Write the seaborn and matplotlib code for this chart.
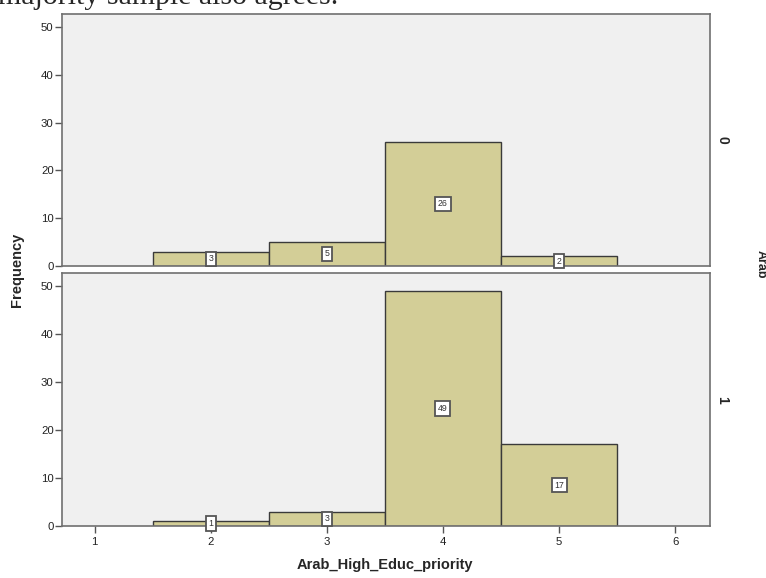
import numpy as np
import pandas as pd
import matplotlib
matplotlib.use("Agg")
import matplotlib.pyplot as plt
import seaborn as sns

# data
priority = [2, 3, 4, 5]
counts_arab0 = [3, 5, 26, 2]
counts_arab1 = [1, 3, 49, 17]
groups = ["0", "1"]
xticks = [1, 2, 3, 4, 5, 6]
yticks = [0, 10, 20, 30, 40, 50]

df = pd.DataFrame({
    "Arab_High_Educ_priority": priority * 2,
    "count": counts_arab0 + counts_arab1,
    "Arab": ["0"] * 4 + ["1"] * 4,
})

sns.set_style("white")
plt.rcParams["font.family"] = ["Liberation Sans", "DejaVu Sans"]

bar_color = "#d3ce97"
bg = "#f0f0f0"
edge = "#3a3a3a"

fig = plt.figure(figsize=(7.66, 5.78), dpi=100)
ax_top = fig.add_axes([0.081, 0.540, 0.846, 0.436])
ax_bot = fig.add_axes([0.081, 0.090, 0.846, 0.438])

for ax, g in zip([ax_top, ax_bot], groups):
    sub = df[df["Arab"] == g]
    sns.histplot(data=sub, x="Arab_High_Educ_priority", weights="count",
                 discrete=True, color=bar_color, alpha=1, edgecolor=edge,
                 linewidth=1, ax=ax)
    ax.set_facecolor(bg)
    ax.set_xlim(0.72, 6.3)
    ax.set_ylim(0, 52.8)
    ax.set_yticks(yticks)
    ax.tick_params(axis="y", length=5, width=1, color="#555555",
                   labelsize=8.2, labelcolor="#222222", pad=1, left=True)
    ax.set_xlabel("")
    ax.set_ylabel("")
    for s in ax.spines.values():
        s.set_color("#707070")
        s.set_linewidth(1.2)
    for x, c in zip(sub["Arab_High_Educ_priority"], sub["count"]):
        ax.text(x, c / 2, str(c), ha="center", va="center", fontsize=6.3,
                color="#333333", clip_on=False, zorder=5,
                bbox=dict(boxstyle="square,pad=0.3", fc="white",
                          ec="#555555", lw=1.3))
    ax.text(1.008, 0.5, g, transform=ax.transAxes, rotation=270,
            ha="left", va="center", fontsize=10, fontweight="bold")

ax_top.set_xticks([])
ax_bot.set_xticks(xticks)
ax_bot.tick_params(axis="x", length=5, width=1, color="#555555",
                   labelsize=8.2, labelcolor="#222222", bottom=True, pad=3)

fig.text(0.022, 0.533, "Frequency", rotation=90, ha="center", va="center",
         fontsize=10.5, fontweight="bold")
fig.text(0.503, 0.022, "Arab_High_Educ_priority", ha="center", va="center",
         fontsize=10.5, fontweight="bold")
fig.text(0.993, 0.543, "Arab", rotation=270, ha="center", va="center",
         fontsize=9, fontweight="bold")
fig.text(-0.003, 1 - 4 / 578, "majority sample also agrees.", ha="left",
         va="baseline", fontsize=21.5, family="Liberation Serif")

fig.savefig("out.png", dpi=100)
